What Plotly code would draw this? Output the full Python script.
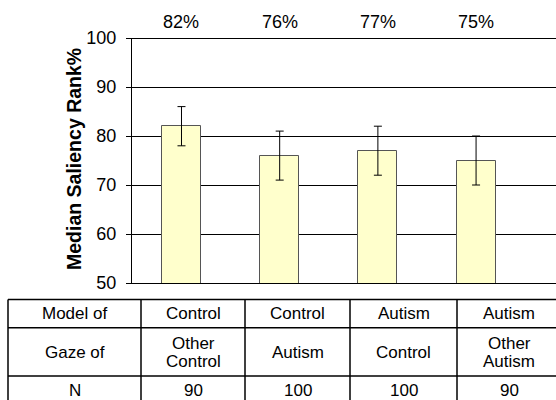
import plotly.graph_objects as go

# Median saliency rank per model/gaze pairing
conditions = ["Control / Other Control", "Control / Autism", "Autism / Control", "Autism / Other Autism"]
median_rank = [82, 76, 77, 75]
rank_error = [4, 5, 5, 5]
y_ticks = [50, 60, 70, 80, 90, 100]

# Table under the chart
row_headers = ["Model of", "Gaze of", "N"]
model_of = ["Control", "Control", "Autism", "Autism"]
gaze_of = [["Other", "Control"], ["Autism"], ["Control"], ["Other", "Autism"]]
n_subjects = ["90", "100", "100", "90"]

W, H = 556, 400
ML, MR, MT, MB = 132, 0, 38, 117
PW, PH = W - ML - MR, H - MT - MB

def px(x):
    return (x - ML) / PW

def py(y):
    return (H - MB - y) / PH

FONT = "Liberation Sans, Arial, sans-serif"
xpos = list(range(len(conditions)))

fig = go.Figure()
fig.add_trace(go.Bar(
    x=xpos, y=median_rank, width=0.397,
    marker=dict(color="#FFFFCC", line=dict(color="#555555", width=1)),
    error_y=dict(type="data", array=rank_error, color="black", thickness=1, width=4),
    hoverinfo="skip",
))

annotations = []
# percentage labels above the plot
for x, v in zip(xpos, median_rank):
    annotations.append(dict(x=x, xref="x", y=py(22), yref="paper", text=f"{v}%",
                            showarrow=False, font=dict(size=18, family=FONT, color="black"),
                            xanchor="center", yanchor="middle"))
# axis title
annotations.append(dict(x=px(74), y=py(159), xref="paper", yref="paper",
                        text="<b>Median Saliency Rank%</b>", textangle=-90, showarrow=False,
                        font=dict(size=19.5, family=FONT, color="black"),
                        xanchor="center", yanchor="middle"))

# table geometry (pixels)
col_edges = [8, 141, 245, 350, 457, 561]
row_edges = [299.5, 327.7, 376, 407]
line_gap = 18

shapes = [
    # heavier rule along the top of the value axis
    dict(type="line", xref="paper", yref="y", x0=0, x1=1, y0=y_ticks[-1], y1=y_ticks[-1],
         line=dict(color="black", width=2)),
]
for yy in row_edges:
    shapes.append(dict(type="line", xref="paper", yref="paper",
                       x0=px(col_edges[0]), x1=px(col_edges[-1]), y0=py(yy), y1=py(yy),
                       line=dict(color="black", width=1.5)))
for xx in col_edges:
    shapes.append(dict(type="line", xref="paper", yref="paper",
                       x0=px(xx), x1=px(xx), y0=py(row_edges[0]), y1=py(row_edges[-1]),
                       line=dict(color="black", width=1.5)))

rows = [[[row_headers[0]]] + [[m] for m in model_of],
        [[row_headers[1]]] + gaze_of,
        [[row_headers[2]]] + [[n] for n in n_subjects]]
row_centers = [313.6, 352.5, 390.5]
for r, cells in enumerate(rows):
    for c, lines in enumerate(cells):
        cx = (col_edges[c] + col_edges[c + 1]) / 2
        k = len(lines)
        for i, t in enumerate(lines):
            cy = row_centers[r] + (i - (k - 1) / 2) * line_gap
            annotations.append(dict(x=px(cx), y=py(cy), xref="paper", yref="paper", text=t,
                                    showarrow=False, font=dict(size=17, family=FONT, color="black"),
                                    xanchor="center", yanchor="middle"))

fig.update_layout(
    width=W, height=H,
    margin=dict(l=ML, r=MR, t=MT, b=MB, pad=0),
    paper_bgcolor="white", plot_bgcolor="white",
    showlegend=False,
    bargap=0,
    xaxis=dict(range=[-0.504, 3.814], showticklabels=False, ticks="", showgrid=False,
               zeroline=False, showline=True, linecolor="black", linewidth=1),
    yaxis=dict(range=[50, 100], tickvals=y_ticks, ticks="outside", ticklen=5,
               tickcolor="black", tickwidth=1, showline=True, linecolor="black", linewidth=1,
               showgrid=True, gridcolor="black", gridwidth=1, zeroline=False,
               tickfont=dict(size=18, family=FONT, color="black"), ticklabelstandoff=6),
    annotations=annotations,
    shapes=shapes,
)

fig.write_html("out.html")
